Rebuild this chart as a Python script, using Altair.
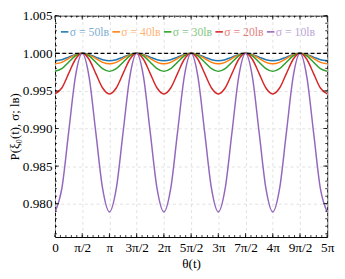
import altair as alt
import pandas as pd

# theta in units of pi
theta_pi = [0.000, 0.125, 0.250, 0.375, 0.500, 0.625, 0.750, 0.875,
            1.000, 1.125, 1.250, 1.375, 1.500, 1.625, 1.750, 1.875,
            2.000, 2.125, 2.250, 2.375, 2.500, 2.625, 2.750, 2.875,
            3.000, 3.125, 3.250, 3.375, 3.500, 3.625, 3.750, 3.875,
            4.000, 4.125, 4.250, 4.375, 4.500, 4.625, 4.750, 4.875,
            5.000]

p_50 = [0.99900, 0.99915, 0.99950, 0.99985, 1.00000, 0.99985, 0.99950, 0.99915,
        0.99900, 0.99915, 0.99950, 0.99985, 1.00000, 0.99985, 0.99950, 0.99915,
        0.99900, 0.99915, 0.99950, 0.99985, 1.00000, 0.99985, 0.99950, 0.99915,
        0.99900, 0.99915, 0.99950, 0.99985, 1.00000, 0.99985, 0.99950, 0.99915,
        0.99900, 0.99915, 0.99950, 0.99985, 1.00000, 0.99985, 0.99950, 0.99915,
        0.99900]
p_40 = [0.99860, 0.99880, 0.99930, 0.99980, 1.00000, 0.99980, 0.99930, 0.99880,
        0.99860, 0.99880, 0.99930, 0.99980, 1.00000, 0.99980, 0.99930, 0.99880,
        0.99860, 0.99880, 0.99930, 0.99980, 1.00000, 0.99980, 0.99930, 0.99880,
        0.99860, 0.99880, 0.99930, 0.99980, 1.00000, 0.99980, 0.99930, 0.99880,
        0.99860, 0.99880, 0.99930, 0.99980, 1.00000, 0.99980, 0.99930, 0.99880,
        0.99860]
p_30 = [0.99760, 0.99795, 0.99880, 0.99965, 1.00000, 0.99965, 0.99880, 0.99795,
        0.99760, 0.99795, 0.99880, 0.99965, 1.00000, 0.99965, 0.99880, 0.99795,
        0.99760, 0.99795, 0.99880, 0.99965, 1.00000, 0.99965, 0.99880, 0.99795,
        0.99760, 0.99795, 0.99880, 0.99965, 1.00000, 0.99965, 0.99880, 0.99795,
        0.99760, 0.99795, 0.99880, 0.99965, 1.00000, 0.99965, 0.99880, 0.99795,
        0.99760]
p_20 = [0.99460, 0.99539, 0.99730, 0.99921, 1.00000, 0.99921, 0.99730, 0.99539,
        0.99460, 0.99539, 0.99730, 0.99921, 1.00000, 0.99921, 0.99730, 0.99539,
        0.99460, 0.99539, 0.99730, 0.99921, 1.00000, 0.99921, 0.99730, 0.99539,
        0.99460, 0.99539, 0.99730, 0.99921, 1.00000, 0.99921, 0.99730, 0.99539,
        0.99460, 0.99539, 0.99730, 0.99921, 1.00000, 0.99921, 0.99730, 0.99539,
        0.99460]
p_10 = [0.97890, 0.98199, 0.98945, 0.99691, 1.00000, 0.99691, 0.98945, 0.98199,
        0.97890, 0.98199, 0.98945, 0.99691, 1.00000, 0.99691, 0.98945, 0.98199,
        0.97890, 0.98199, 0.98945, 0.99691, 1.00000, 0.99691, 0.98945, 0.98199,
        0.97890, 0.98199, 0.98945, 0.99691, 1.00000, 0.99691, 0.98945, 0.98199,
        0.97890, 0.98199, 0.98945, 0.99691, 1.00000, 0.99691, 0.98945, 0.98199,
        0.97890]

sigma_labels = ["σ = 50lʙ", "σ = 40lʙ", "σ = 30lʙ", "σ = 20lʙ", "σ = 10lʙ"]
colors = ["#1f77b4", "#ff7f0e", "#2ca02c", "#d62728", "#9467bd"]
series = [p_50, p_40, p_30, p_20, p_10]

x_tick_values = [0, 0.5, 1, 1.5, 2, 2.5, 3, 3.5, 4, 4.5, 5]
x_tick_labels = ["0", "π/2", "π", "3π/2", "2π", "5π/2", "3π", "7π/2", "4π", "9π/2", "5π"]
y_tick_values = [0.980, 0.985, 0.990, 0.995, 1.000, 1.005]
ref_level = [1.0]

W, H = 278, 226
FONT = "Liberation Serif"

rows = []
for k, (lab, vals) in enumerate(zip(sigma_labels, series)):
    for t, v in zip(theta_pi, vals):
        rows.append({"theta": t, "P": v, "series": lab, "k": k})
df = pd.DataFrame(rows)

x_scale = alt.Scale(domain=[0, 5], nice=False, zero=False)
y_scale = alt.Scale(domain=[0.97557, 1.005], nice=False, zero=False)
color_scale = alt.Scale(domain=sigma_labels, range=colors)

label_expr = "[" + ",".join("'" + s + "'" for s in x_tick_labels) + "][round(datum.value*2)]"

x_axis = alt.Axis(values=x_tick_values, labelExpr=label_expr, title="θ(t)",
                  grid=True, gridDash=[3, 3], gridColor="#d9d9d9", gridWidth=0.8,
                  ticks=False, tickSize=0, domain=False, labelPadding=4,
                  titlePadding=3, labelFlush=False)
y_axis = alt.Axis(values=y_tick_values, format=".3f", title="P(ξ₀(t), σ; lʙ)",
                  grid=True, gridDash=[3, 3], gridColor="#d9d9d9", gridWidth=0.8,
                  ticks=False, tickSize=0, domain=False, labelPadding=3,
                  titlePadding=1, titleFontSize=13, labelFlush=False)

lines = alt.Chart(df).mark_line(strokeWidth=1.5, interpolate="monotone", clip=True).encode(
    x=alt.X("theta:Q", scale=x_scale, axis=x_axis),
    y=alt.Y("P:Q", scale=y_scale, axis=y_axis),
    color=alt.Color("series:N", scale=color_scale, legend=None),
    order=alt.Order("k:Q"),
)

ref = alt.Chart(pd.DataFrame({"P": ref_level})).mark_rule(
    color="black", strokeWidth=1.2, strokeDash=[4, 2.5]
).encode(y=alt.Y("P:Q", scale=y_scale, axis=y_axis))

# tick marks (inward, all four sides)
x_minor = [i / 10 for i in range(51)]
y_minor = [round(0.976 + i * 0.001, 3) for i in range(30)]
xt_min = pd.DataFrame({"theta": x_minor})
xt_maj = pd.DataFrame({"theta": x_tick_values})
yt_min = pd.DataFrame({"P": y_minor})
yt_maj = pd.DataFrame({"P": y_tick_values})

def xticks(data, y0, y1):
    return alt.Chart(data).mark_rule(color="black", strokeWidth=0.8).encode(
        x=alt.X("theta:Q", scale=x_scale, axis=x_axis), y=alt.value(y0), y2=alt.value(y1))

def yticks(data, x0, x1):
    return alt.Chart(data).mark_rule(color="black", strokeWidth=0.8).encode(
        y=alt.Y("P:Q", scale=y_scale, axis=y_axis), x=alt.value(x0), x2=alt.value(x1))

tick_layers = [
    xticks(xt_min, H, H - 2), xticks(xt_maj, H, H - 4),
    xticks(xt_min, 0, 2), xticks(xt_maj, 0, 4),
    yticks(yt_min, 0, 2), yticks(yt_maj, 0, 4),
    yticks(yt_min, W, W - 2), yticks(yt_maj, W, W - 4),
]

# legend (manual, inside the plot)
legend_layers = []
LY = 16.5
for i, (lab, col) in enumerate(zip(sigma_labels, colors)):
    x0 = 6 + i * 52.6
    one = pd.DataFrame({"label": [lab]})
    legend_layers.append(
        alt.Chart(one).mark_rule(color=col, strokeWidth=1.6).encode(
            x=alt.value(x0), x2=alt.value(x0 + 7.7), y=alt.value(LY)))
    legend_layers.append(
        alt.Chart(one).mark_text(color=col, opacity=0.6, align="left", baseline="middle",
                                 font=FONT, fontSize=12).encode(
            x=alt.value(x0 + 9), y=alt.value(LY), text="label:N"))

chart = alt.layer(lines, ref, *tick_layers, *legend_layers).properties(
    width=W, height=H,
    padding={"left": 48, "top": 5, "right": 10, "bottom": 40},
    autosize=alt.AutoSizeParams(type="none"),
).configure_view(stroke="black", strokeWidth=1).configure_axis(
    labelFont=FONT, titleFont=FONT, labelFontSize=13.5, titleFontSize=13.5,
    labelColor="black", titleColor="black", titleFontWeight="normal",
)

chart.save("out.html", embed_options={"renderer": "svg", "actions": False})
